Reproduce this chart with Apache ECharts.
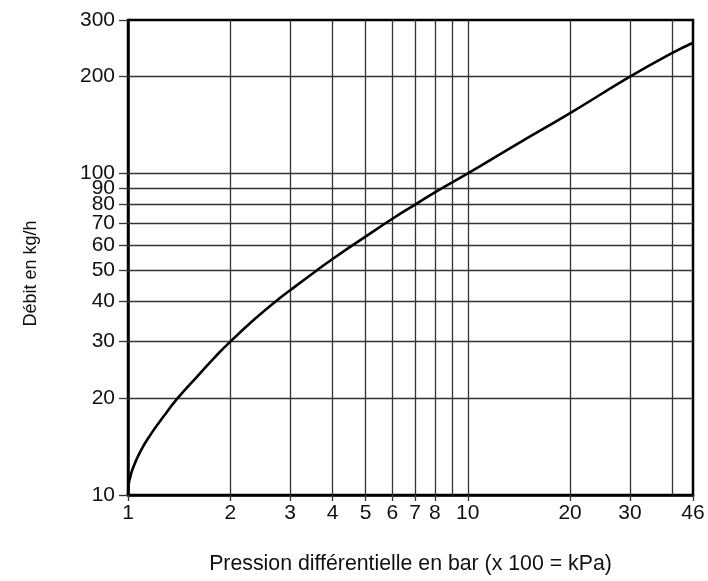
<!DOCTYPE html>
<html>
<head>
<meta charset="utf-8">
<script src="https://cdn.jsdelivr.net/npm/echarts@6/dist/echarts.min.js"></script>
<style>html,body{margin:0;padding:0;background:#fff}#c{width:708px;height:581px}</style>
</head>
<body>
<div id="c"></div>
<script>
const xTickLabels = [1, 2, 3, 4, 5, 6, 7, 8, 10, 20, 30, 46];
const xGridValues = [2, 3, 4, 5, 6, 7, 8, 9, 10, 20, 30, 40];
const yTickLabels = [10, 20, 30, 40, 50, 60, 70, 80, 90, 100, 200, 300];
const yGridValues = [20, 30, 40, 50, 60, 70, 80, 90, 100, 200];
const pressure = [1, 1.005, 1.015, 1.035, 1.085, 1.16, 1.27, 1.4, 1.6, 1.8, 2, 2.4, 2.72, 3, 3.6, 4, 5, 6, 7, 8, 10, 14, 20, 30, 40, 46];
const flow =     [10, 10.8, 11.35, 12.15, 13.6, 15.3, 17.5, 20, 23.4, 26.8, 30, 35.8, 40, 43.3, 50, 54.2, 63.6, 72.3, 80, 87.3, 100, 123.6, 154, 200, 237, 255];

const FONT = 'Liberation Sans';
const gridColor = '#333';
const chart = echarts.init(document.getElementById('c'));
const markData = xGridValues.map(v => ({ xAxis: v })).concat(yGridValues.map(v => ({ yAxis: v })));
chart.setOption({
  animation: false,
  grid: { left: 128, right: 15, top: 20, bottom: 86, show: true, borderColor: '#000', borderWidth: 2.5, containLabel: false },
  xAxis: {
    type: 'log', logBase: 10, min: 1, max: 46,
    name: 'Pression différentielle en bar (x 100 = kPa)',
    nameLocation: 'middle', nameGap: 59,
    nameTextStyle: { fontFamily: FONT, fontSize: 21.3, color: '#111' },
    axisLine: { show: true, lineStyle: { color: '#000', width: 2.5 } },
    axisTick: { show: true, length: 6, customValues: xTickLabels, lineStyle: { color: gridColor, width: 1.3 } },
    axisLabel: { customValues: xTickLabels, margin: 8, fontFamily: FONT, fontSize: 21, color: '#111', formatter: v => String(Math.round(v)) },
    splitLine: { show: false },
    minorTick: { show: false }, minorSplitLine: { show: false }
  },
  yAxis: {
    type: 'log', logBase: 10, min: 10, max: 300,
    name: 'Débit en kg/h',
    nameLocation: 'middle', nameGap: 88,
    nameTextStyle: { fontFamily: FONT, fontSize: 18, color: '#111', padding: [0, 32, 0, 0] },
    axisLine: { show: true, lineStyle: { color: '#000', width: 2.5 } },
    axisTick: { show: true, length: 9, customValues: yTickLabels, lineStyle: { color: gridColor, width: 1.3 } },
    axisLabel: { customValues: yTickLabels, margin: 13, fontFamily: FONT, fontSize: 21, color: '#111', formatter: v => String(Math.round(v)) },
    splitLine: { show: false },
    minorTick: { show: false }, minorSplitLine: { show: false }
  },
  series: [{
    type: 'line',
    data: pressure.map((p, i) => [p, flow[i]]),
    showSymbol: false,
    smooth: 0.5,
    lineStyle: { color: '#000', width: 2.6 },
    z: 5,
    markLine: {
      silent: true, symbol: 'none', label: { show: false },
      lineStyle: { color: gridColor, width: 1.3, type: 'solid' },
      data: markData
    }
  }]
});
</script>
</body>
</html>
